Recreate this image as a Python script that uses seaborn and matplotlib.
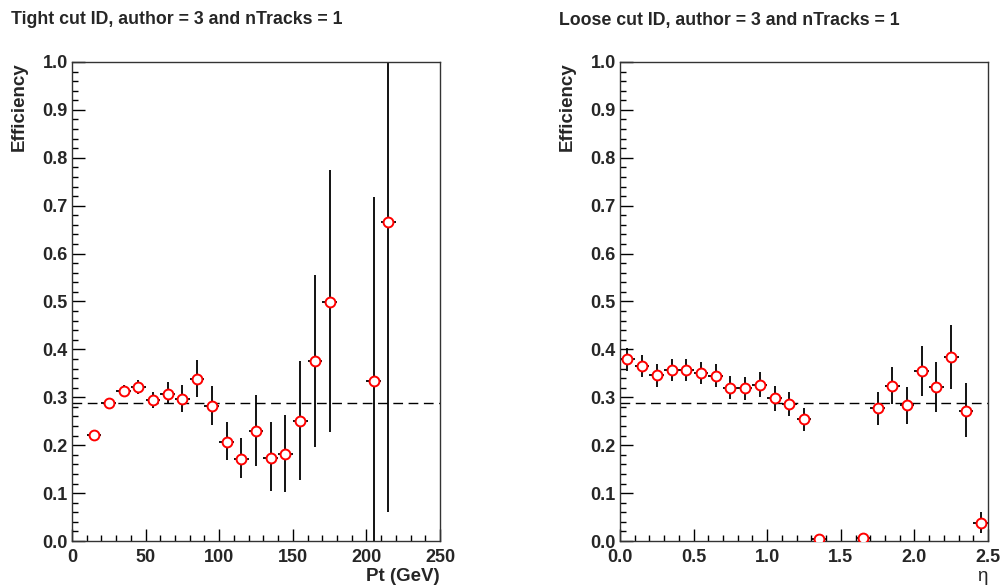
import numpy as np
import matplotlib
matplotlib.use("Agg")
import matplotlib.pyplot as plt
from matplotlib.ticker import MultipleLocator, FormatStrFormatter
import seaborn as sns

# ---- data: left panel (Pt) ----
pt_x = [15, 25, 35, 45, 55, 65, 75, 85, 95, 105, 115, 125, 135, 145, 155, 165, 175, 205, 215]
pt_eff = [0.221, 0.288, 0.314, 0.322, 0.294, 0.307, 0.296, 0.339, 0.281, 0.207, 0.172,
          0.230, 0.174, 0.181, 0.250, 0.375, 0.500, 0.333, 0.667]
pt_hi = [0.231, 0.292, 0.326, 0.337, 0.312, 0.331, 0.326, 0.378, 0.324, 0.248, 0.216,
         0.305, 0.248, 0.263, 0.375, 0.555, 0.775, 0.719, 1.000]
pt_lo = [0.212, 0.284, 0.303, 0.307, 0.277, 0.285, 0.270, 0.301, 0.243, 0.169, 0.131,
         0.157, 0.105, 0.103, 0.127, 0.197, 0.228, 0.000, 0.060]
pt_halfbin = 5.0

# ---- data: right panel (eta) ----
eta_x = [0.05, 0.15, 0.25, 0.35, 0.45, 0.55, 0.65, 0.75, 0.85, 0.95, 1.05, 1.15, 1.25,
         1.35, 1.65, 1.75, 1.85, 1.95, 2.05, 2.15, 2.25, 2.35, 2.45]
eta_eff = [0.379, 0.366, 0.346, 0.357, 0.356, 0.351, 0.345, 0.320, 0.319, 0.326, 0.299,
           0.287, 0.254, 0.005, 0.006, 0.277, 0.324, 0.283, 0.355, 0.321, 0.384, 0.271, 0.038]
eta_hi = [0.402, 0.388, 0.369, 0.380, 0.379, 0.374, 0.369, 0.344, 0.343, 0.352, 0.324,
          0.312, 0.277, 0.010, 0.012, 0.312, 0.364, 0.321, 0.407, 0.374, 0.451, 0.329, 0.060]
eta_lo = [0.354, 0.343, 0.322, 0.333, 0.333, 0.328, 0.322, 0.296, 0.295, 0.300, 0.272,
          0.262, 0.229, 0.001, 0.001, 0.242, 0.286, 0.245, 0.303, 0.269, 0.318, 0.218, 0.016]
eta_halfbin = 0.05

ref_line = 0.288
titles = ["Tight cut ID, author = 3 and nTracks = 1", "Loose cut ID, author = 3 and nTracks = 1"]
xlabels = ["Pt (GeV)", "\u03b7"]
ylabel = "Efficiency"

sns.set_style("white")
plt.rcParams['font.family'] = ['Liberation Sans', 'DejaVu Sans']

fig = plt.figure(figsize=(10.04, 5.88), dpi=100)
ax_l = fig.add_axes([72/1004, 47/588, 368/1004, 479/588])
ax_r = fig.add_axes([620/1004, 47/588, 368/1004, 479/588])

panels = [
    (ax_l, pt_x, pt_eff, pt_lo, pt_hi, pt_halfbin, (0, 250), 50, 10, "%d"),
    (ax_r, eta_x, eta_eff, eta_lo, eta_hi, eta_halfbin, (0, 2.5), 0.5, 0.1, "%.1f"),
]

for i, (ax, x, y, lo, hi, hb, xlim, maj, mnr, fmt) in enumerate(panels):
    x = np.array(x); y = np.array(y); lo = np.array(lo); hi = np.array(hi)
    ax.errorbar(x, y, yerr=[y - lo, hi - y], xerr=hb, fmt='none', ecolor='black',
                elinewidth=1.3, capsize=0, zorder=2)
    sns.scatterplot(x=x, y=y, ax=ax, marker='o', s=50, facecolor='white',
                    edgecolor='red', linewidth=1.4, zorder=3, legend=False)
    ax.axhline(ref_line, color='black', lw=1.0, ls=(0, (7, 4)), zorder=1)
    ax.set_xlim(*xlim)
    ax.set_ylim(0, 1.0)
    ax.xaxis.set_major_locator(MultipleLocator(maj))
    ax.xaxis.set_minor_locator(MultipleLocator(mnr))
    ax.xaxis.set_major_formatter(FormatStrFormatter(fmt))
    ax.yaxis.set_major_locator(MultipleLocator(0.1))
    ax.yaxis.set_minor_locator(MultipleLocator(0.02))
    ax.yaxis.set_major_formatter(FormatStrFormatter("%.1f"))
    ax.tick_params(which='both', direction='in', left=True, bottom=True, top=False, right=False,
                   color='black', width=1.0)
    ax.tick_params(which='major', length=9, labelsize=13)
    ax.tick_params(axis='x', which='major', pad=6)
    ax.tick_params(axis='y', which='major', pad=3)
    ax.tick_params(which='minor', length=4.5)
    for lab in ax.get_xticklabels() + ax.get_yticklabels():
        lab.set_fontweight('bold')
    for sp in ax.spines.values():
        sp.set_color('#333333')
        sp.set_linewidth(1.0)
    ax.set_xlabel("")
    ax.set_ylabel("")
    # titles, labels in ROOT style
    x0 = ax.get_position().x0
    fig.text(x0 - 61/1004, 1 - 20/588, titles[i], fontsize=12.8, fontweight='bold',
             ha='left', va='center')
    fig.text(x0 - 53/1004, 1 - 62/588, ylabel, rotation=90, fontsize=13.5, fontweight='bold',
             ha='center', va='top')
    ax.text(1.0, -0.075, xlabels[i], transform=ax.transAxes, ha='right', va='center',
            fontsize=13.5, fontweight='bold' if i == 0 else 'normal')

fig.savefig("out.png", dpi=100)
